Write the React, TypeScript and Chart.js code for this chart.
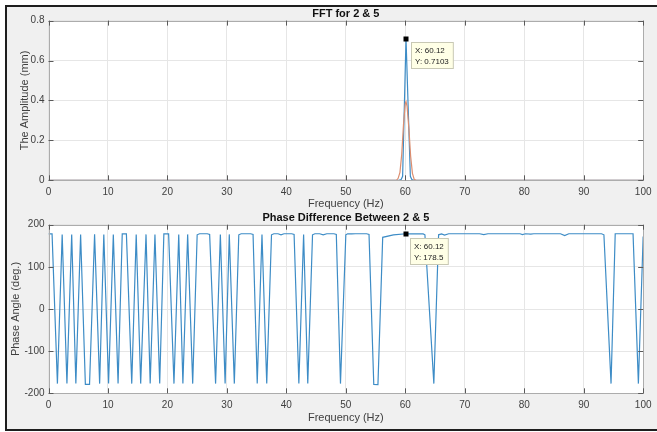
import React, { useEffect, useRef } from "react";
import { Chart, registerables } from "chart.js";

Chart.register(...registerables);

// ---------- data ----------
const fftTitle = "FFT for 2 & 5";
const phaseTitle = "Phase Difference Between 2 & 5";
const xLabel = "Frequency (Hz)";
const ampLabel = "The Amplitude (mm)";
const phaseLabel = "Phase Angle (deg.)";

const ampBlueFreq = [0, 58.9, 59.3, 59.55, 60.12, 60.85, 61.1, 61.5, 100];
const ampBlueVal = [0, 0, 0.004, 0.02, 0.7103, 0.02, 0.004, 0, 0];

const ampOrangeFreq = [0, 58.5, 58.8, 59.1, 59.4, 59.7, 60.0, 60.12, 60.3, 60.6, 60.9, 61.2, 61.5, 61.8, 100];
const ampOrangeVal = [0, 0, 0.01, 0.04, 0.13, 0.28, 0.385, 0.394, 0.37, 0.26, 0.12, 0.035, 0.005, 0, 0];

const phaseFreq = [
  0, 0.6, 1.5, 2.3, 3.1, 3.9, 4.6, 5.4, 6.2, 6.9, 7.75, 8.6, 9.3, 10.1, 10.9, 11.7,
  12.4, 13.1, 14.0, 14.75, 15.5, 16.4, 17.1, 17.9, 18.7, 19.4, 20.2, 21.1, 21.9, 22.6,
  23.4, 24.25, 25.0, 25.4, 26.7, 27.1, 28.1, 28.9, 29.7, 30.4, 31.25, 32.0, 32.4, 34.0,
  34.4, 35.1, 35.9, 36.7, 37.5, 37.9, 38.6, 39.1, 39.6, 40.9, 41.3, 42.1, 42.9, 43.6,
  44.4, 44.8, 45.6, 46.2, 46.8, 48.0, 48.4, 49.1, 50.0, 50.3, 51.0, 51.6, 53.5, 53.9,
  54.7, 55.4, 56.2, 58.0, 60.12, 63.0, 63.3, 64.8, 65.6, 66.1, 66.6, 67.3, 70.0, 72.5,
  73.2, 73.9, 76.0, 79.3, 79.7, 80.2, 81.1, 81.6, 86.1, 86.8, 87.5, 93.0, 93.4, 94.6,
  95.3, 98.3, 99.2, 100,
];
const phaseDeg = [
  178, 178, -177, 177, -177, 177, -177, 177, -179, -179, 177, -177, 177, -177, 177, -177,
  178, 178, -177, 177, -177, 177, -177, 177, -177, 178, 178, -177, 177, -177,
  177, -177, 176, 178.5, 178.5, 177, -177, 177, -177, 177, -177, 176, 178.5, 178.5,
  177, -177, 177, -177, 176, 178.5, 178.5, 176, 178.5, 178.5, 177, -177, 177, -177,
  176, 178.5, 178.5, 176, 178.5, 178.5, 177, -177, 176, 178.5, 178, 178.5, 178.5, 177,
  -179, -179.5, 170, 176, 178.5, 178, 176, -177, 176, 178, 175.5, 178.5, 178.5, 178.5,
  176.5, 178.5, 178.5, 178.5, 176.5, 178.5, 177.5, 178.5, 178.5, 174, 178.5, 178.5, 176, -177,
  178.5, 178.5, -177, 172,
];

const tipAmpX = 60.12;
const tipAmpY = 0.7103;
const tipPhaseX = 60.12;
const tipPhaseY = 178.5;

const ampTicks = { min: 0, max: 0.8, step: 0.2 };
const phaseTicks = { min: -200, max: 200, step: 100 };
const freqTicks = { min: 0, max: 100, step: 10 };

// ---------- style ----------
const FONT = "'Liberation Sans', Arial, Helvetica, sans-serif";
const BLUE = "#3d8cc6";
const ORANGE = "#dc8e70";
const TXT = "#404040";

const matlabPlugin = {
  id: "matlab",
  beforeDraw(chart: any) {
    const { ctx, chartArea } = chart;
    const { left, top, right, bottom } = chartArea;
    ctx.save();
    ctx.fillStyle = "#ffffff";
    ctx.fillRect(left, top, right - left, bottom - top);
    ctx.restore();
  },
  afterDatasetsDraw(chart: any) {
    const { ctx, chartArea, scales } = chart;
    const { left, top, right, bottom } = chartArea;
    ctx.save();
    ctx.strokeStyle = "#acacac";
    ctx.lineWidth = 1;
    ctx.strokeRect(Math.round(left) + 0.5, Math.round(top) + 0.5, Math.round(right - left) - 1, Math.round(bottom - top) - 1);
    ctx.strokeStyle = "#5a5a5a";
    const tl = 5;
    ctx.beginPath();
    scales.x.ticks.forEach((t: any) => {
      const p = Math.round(scales.x.getPixelForValue(t.value)) + 0.5;
      ctx.moveTo(p, bottom);
      ctx.lineTo(p, bottom - tl);
      ctx.moveTo(p, top);
      ctx.lineTo(p, top + tl);
    });
    scales.y.ticks.forEach((t: any) => {
      const p = Math.round(scales.y.getPixelForValue(t.value)) + 0.5;
      ctx.moveTo(left, p);
      ctx.lineTo(left + tl, p);
      ctx.moveTo(right, p);
      ctx.lineTo(right - tl, p);
    });
    ctx.stroke();
    ctx.restore();
  },
  afterDraw(chart: any, _args: any, opts: any) {
    if (!opts || opts.x === undefined) return;
    const { ctx, scales } = chart;
    const px = scales.x.getPixelForValue(opts.x);
    const py = scales.y.getPixelForValue(opts.y);
    ctx.save();
    ctx.fillStyle = "#000";
    ctx.fillRect(Math.round(px) - 2.5, Math.round(py) - 2.5, 5, 5);
    ctx.font = `8px ${FONT}`;
    const lines: string[] = opts.lines;
    const w = Math.max(...lines.map((l) => ctx.measureText(l).width)) + 8;
    const bx = Math.round(px + opts.dx) + 0.5;
    const by = Math.round(py + opts.dy) + 0.5;
    const h = 26;
    ctx.fillStyle = "#ffffe6";
    ctx.fillRect(bx, by, w, h);
    ctx.strokeStyle = "#c8c8b4";
    ctx.strokeRect(bx, by, w, h);
    ctx.fillStyle = "#222";
    ctx.textBaseline = "middle";
    ctx.textAlign = "left";
    lines.forEach((l, i) => ctx.fillText(l, bx + 3.5, by + 8 + i * 11));
    ctx.restore();
  },
};

function makeScales(
  yr: { min: number; max: number; step: number },
  yTitle: string,
  yTitlePad: number,
  xHeight: number,
  xTitlePadBottom: number
) {
  const tickFont = { family: FONT, size: 10 };
  const labFont = { family: FONT, size: 11 };
  return {
    x: {
      type: "linear",
      min: freqTicks.min,
      max: freqTicks.max,
      afterFit: (s: any) => {
        s.height = xHeight;
      },
      ticks: { stepSize: freqTicks.step, padding: 5.5, font: tickFont, color: TXT, maxRotation: 0, autoSkip: false },
      grid: { color: "#e6e6e6", drawTicks: false },
      border: { display: false },
      title: { display: true, text: xLabel, font: labFont, color: TXT, padding: { top: 0, bottom: xTitlePadBottom } },
    },
    y: {
      type: "linear",
      min: yr.min,
      max: yr.max,
      afterFit: (s: any) => {
        s.width = 48.5;
      },
      ticks: { stepSize: yr.step, padding: 4, font: tickFont, color: TXT },
      grid: { color: "#e6e6e6", drawTicks: false },
      border: { display: false },
      title: { display: true, text: yTitle, font: labFont, color: TXT, padding: { top: yTitlePad, bottom: 0 } },
    },
  };
}

function pts(xs: number[], ys: number[]) {
  return xs.map((x, i) => ({ x, y: ys[i] }));
}

export default function App() {
  const topRef = useRef<HTMLCanvasElement>(null);
  const botRef = useRef<HTMLCanvasElement>(null);

  useEffect(() => {
    const common = {
      animation: false,
      responsive: false,
      maintainAspectRatio: false,
      elements: { point: { radius: 0 }, line: { tension: 0, borderWidth: 1.2 } },
    };
    const top = new Chart(topRef.current as HTMLCanvasElement, {
      type: "line",
      data: {
        datasets: [
          { data: pts(ampOrangeFreq, ampOrangeVal), borderColor: ORANGE, fill: false },
          { data: pts(ampBlueFreq, ampBlueVal), borderColor: BLUE, fill: false },
        ],
      },
      options: {
        ...common,
        layout: { padding: { left: 0, right: 8, top: 0, bottom: 0 } },
        plugins: {
          legend: { display: false },
          tooltip: { enabled: false },
          title: {
            display: true,
            text: fftTitle,
            fullSize: false,
            color: "#111",
            font: { family: FONT, size: 11, weight: "bold", lineHeight: 1.2 },
            padding: { top: 7.4, bottom: 0 },
          },
          matlab: { x: tipAmpX, y: tipAmpY, dx: 4.5, dy: 3, lines: [`X: ${tipAmpX}`, `Y: ${tipAmpY}`] },
        },
        scales: makeScales(ampTicks, ampLabel, 18.4, 30.7, 0),
      } as any,
      plugins: [matlabPlugin],
    });
    const bot = new Chart(botRef.current as HTMLCanvasElement, {
      type: "line",
      data: {
        datasets: [{ data: pts(phaseFreq, phaseDeg), borderColor: BLUE, fill: false }],
      },
      options: {
        ...common,
        layout: { padding: { left: 0, right: 8, top: 0, bottom: 0 } },
        plugins: {
          legend: { display: false },
          tooltip: { enabled: false },
          title: {
            display: true,
            text: phaseTitle,
            fullSize: false,
            color: "#111",
            font: { family: FONT, size: 11, weight: "bold", lineHeight: 1.2 },
            padding: { top: 0.5, bottom: 0 },
          },
          matlab: { x: tipPhaseX, y: tipPhaseY, dx: 4, dy: 4.6, lines: [`X: ${tipPhaseX}`, `Y: ${tipPhaseY}`] },
        },
        scales: makeScales(phaseTicks, phaseLabel, 9.7, 38.7, 7),
      } as any,
      plugins: [matlabPlugin],
    });
    return () => {
      top.destroy();
      bot.destroy();
    };
  }, []);

  return (
    <div style={{ position: "absolute", left: 0, top: 0, width: 657, height: 432, background: "#fff", overflow: "hidden" }}>
      <div
        style={{
          position: "absolute",
          left: 5,
          top: 5,
          width: 660,
          height: 422,
          border: "2px solid #1e1e1e",
          background: "#f0f0f0",
        }}
      />
      <canvas ref={topRef} width={657} height={211} style={{ position: "absolute", left: 0, top: 0 }} />
      <canvas ref={botRef} width={657} height={221} style={{ position: "absolute", left: 0, top: 211 }} />
    </div>
  );
}
